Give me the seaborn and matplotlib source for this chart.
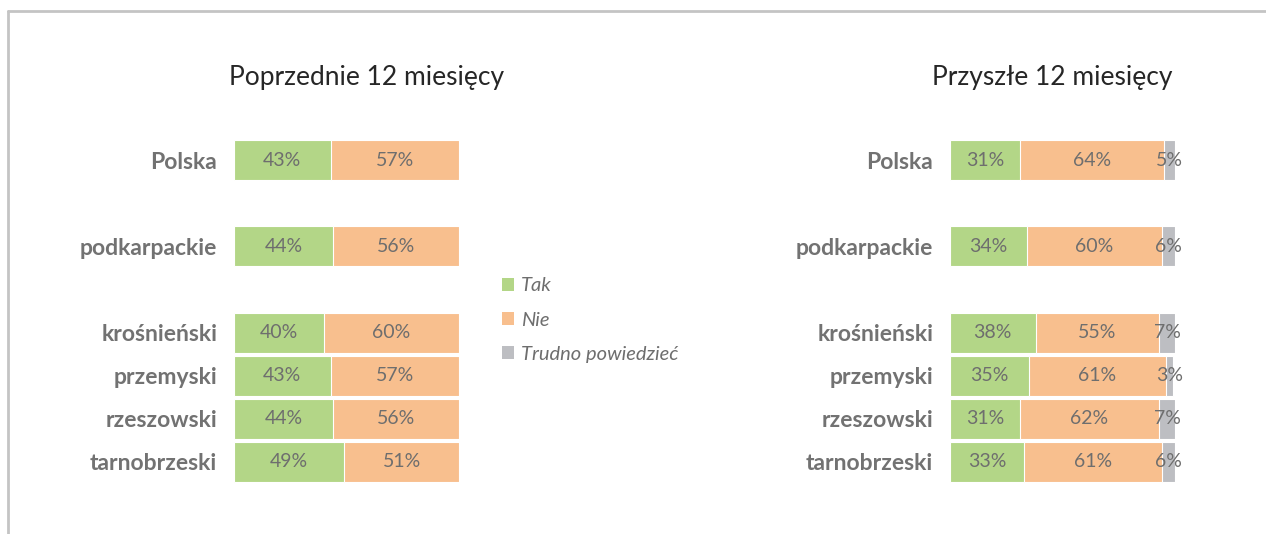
import matplotlib
matplotlib.use("Agg")
import matplotlib.pyplot as plt
from matplotlib.lines import Line2D
from matplotlib.patches import Patch
import seaborn as sns
import pandas as pd
import numpy as np

sns.set_theme(style="white")
plt.rcParams['font.family'] = ['Lato', 'DejaVu Sans']

# ---- data ----
categories = ["Polska", "podkarpackie", "krośnieński", "przemyski", "rzeszowski", "tarnobrzeski"]
series_names = ["Tak", "Nie", "Trudno powiedzieć"]
prev_tak = [43, 44, 40, 43, 44, 49]
prev_nie = [57, 56, 60, 57, 56, 51]
next_tak = [31, 34, 38, 35, 31, 33]
next_nie = [64, 60, 55, 61, 62, 61]
next_trudno = [5, 6, 7, 3, 7, 6]
titles = ["Poprzednie 12 miesięcy", "Przyszłe 12 miesięcy"]

colors = {"Tak": "#b3d687", "Nie": "#f8bf8e", "Trudno powiedzieć": "#bdbec2"}
label_color = "#6e6e6e"
cat_color = "#727272"

# order with blank spacer rows to create gaps
order = ["Polska", " ", "podkarpackie", "  ", "krośnieński", "przemyski", "rzeszowski", "tarnobrzeski"]

W, H = 1266, 534
fig = plt.figure(figsize=(W / 100, H / 100), dpi=100)

def draw_panel(ax, series):
    df = pd.DataFrame({"cat": categories})
    cum = np.zeros(len(categories))
    cums = []
    for name, vals in series:
        cum = cum + np.array(vals, dtype=float)
        cums.append((name, vals, cum.copy()))
    # overlay stacking: longest cumulative first
    for name, vals, c in reversed(cums):
        d = df.copy()
        d["v"] = c
        sns.barplot(data=d, x="v", y="cat", order=order, orient="h",
                    color=colors[name], saturation=1, width=0.93,
                    ax=ax, label=name, edgecolor="white", linewidth=0.8)
    for name, vals, c in cums:
        for i, cat in enumerate(categories):
            v = vals[i]
            ax.text(c[i] - v / 2, order.index(cat), f"{v}%", ha="center", va="center",
                    fontsize=14, color=label_color)
    ax.set_xlim(0, 100)
    ax.set_ylim(len(order) - 0.5, -0.5)
    ax.set_xlabel("")
    ax.set_ylabel("")
    ax.set_xticks([])
    for s in ax.spines.values():
        s.set_visible(False)
    ax.tick_params(axis="y", length=0, pad=12)
    for lbl in ax.get_yticklabels():
        lbl.set_fontweight("bold")
        lbl.set_fontsize(16.5)
        lbl.set_color(cat_color)
    if ax.get_legend() is not None:
        ax.get_legend().remove()

ax1 = fig.add_axes([234 / W, 1 - 483.5 / H, 225 / W, 345 / H])
ax2 = fig.add_axes([950 / W, 1 - 483.5 / H, 225 / W, 345 / H])

draw_panel(ax1, [("Tak", prev_tak), ("Nie", prev_nie)])
draw_panel(ax2, [("Tak", next_tak), ("Nie", next_nie), ("Trudno powiedzieć", next_trudno)])

fig.text(367 / W, 1 - 78 / H, titles[0], ha="center", va="center", fontsize=19,
         fontweight="normal", color="#262626")
fig.text(1052 / W, 1 - 78 / H, titles[1], ha="center", va="center", fontsize=19,
         fontweight="normal", color="#262626")

handles = [Patch(facecolor=colors[n], edgecolor="none") for n in series_names]
leg = fig.legend(handles, series_names, loc="center left",
                 bbox_to_anchor=(484 / W, 1 - 320 / H), frameon=False,
                 handlelength=0.6, handleheight=0.6, handletextpad=0.35,
                 labelspacing=0.85, prop={"size": 14.5, "style": "italic"})
for t in leg.get_texts():
    t.set_color(label_color)

fig.add_artist(Line2D([8 / W, 1], [1 - 11 / H, 1 - 11 / H], color="#c4c4c4", lw=2))
fig.add_artist(Line2D([8 / W, 8 / W], [0, 1 - 11 / H], color="#c4c4c4", lw=2))

fig.savefig("out.png", dpi=100, facecolor="white")
